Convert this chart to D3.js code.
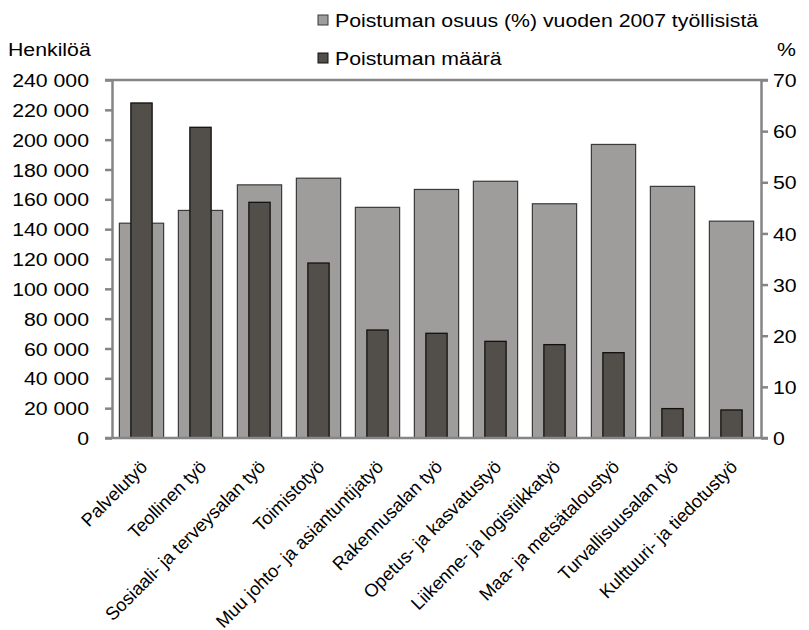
<!DOCTYPE html>
<html><head><meta charset="utf-8">
<script src="https://cdn.jsdelivr.net/npm/d3@7"></script>
<style>
html,body{margin:0;padding:0;background:#fff;}
svg text{font-family:"Liberation Sans",Arial,Helvetica,sans-serif;fill:#000;}
</style></head>
<body>
<svg id="chart" width="809" height="630"></svg>
<script>
const categories = ["Palvelutyö","Teollinen työ","Sosiaali- ja terveysalan työ","Toimistotyö","Muu johto- ja asiantuntijatyö","Rakennusalan työ","Opetus- ja kasvatustyö","Liikenne- ja logistiikkatyö","Maa- ja metsätaloustyö","Turvallisuusalan työ","Kulttuuri- ja tiedotustyö"];
const shareValues = [42.0, 44.5, 49.5, 50.8, 45.1, 48.6, 50.2, 45.8, 57.4, 49.2, 42.4];
const countValues = [224600, 208300, 158000, 117300, 72400, 70200, 64800, 62600, 57200, 19700, 18800];
const leftTicks = [0,20000,40000,60000,80000,100000,120000,140000,160000,180000,200000,220000,240000];
const rightTicks = [0,10,20,30,40,50,60,70];
const seriesNames = ["Poistuman osuus (%) vuoden 2007 työllisistä","Poistuman määrä"];
const leftTitle = "Henkilöä";
const rightTitle = "%";

const svg = d3.select("#chart");
const L = 112, R = 761, T = 80, B = 438;
const SX = 1.12; // horizontal stretch of text
const FS = 19;

const x = d3.scaleBand().domain(categories).range([L, R]).paddingInner(0.25).paddingOuter(0.125);
const yL = d3.scaleLinear().domain([0, 240000]).range([B, T]);
const yR = d3.scaleLinear().domain([0, 70]).range([B, T]);
const loc = d3.formatLocale({decimal: ",", thousands: "\u00a0", grouping: [3], currency: ["", "€"]});
const fmt = loc.format(",d");

const lightFill = "#9e9d9b", darkFill = "#524f4a", axisCol = "#858585";

// top border line
svg.append("line").attr("x1", L - 7).attr("x2", R + 7).attr("y1", T).attr("y2", T)
  .attr("stroke", axisCol).attr("stroke-width", 2.5);

// light bars (share, right axis)
svg.append("g").selectAll("rect").data(categories).join("rect")
  .attr("x", d => x(d)).attr("width", x.bandwidth())
  .attr("y", (d, i) => yR(shareValues[i])).attr("height", (d, i) => B - yR(shareValues[i]))
  .attr("fill", lightFill).attr("stroke", "#3a3a3a").attr("stroke-width", 1.2);

// dark bars (count, left axis)
const dw = x.bandwidth() * 0.48;
svg.append("g").selectAll("rect").data(categories).join("rect")
  .attr("x", d => x(d) + (x.bandwidth() - dw) / 2).attr("width", dw)
  .attr("y", (d, i) => yL(countValues[i])).attr("height", (d, i) => B - yL(countValues[i]))
  .attr("fill", darkFill).attr("stroke", "#111").attr("stroke-width", 1.3);

// left axis
const gl = svg.append("g").attr("transform", `translate(${L},0)`)
  .call(d3.axisLeft(yL).tickValues(leftTicks).tickFormat(fmt).tickSize(7).tickSizeOuter(0));
gl.select(".domain").attr("stroke", axisCol).attr("stroke-width", 2.5);
gl.selectAll(".tick line").attr("stroke", axisCol).attr("stroke-width", 2.5);
gl.selectAll(".tick text").attr("font-size", FS).attr("x", -23 / SX).attr("dy", "0.35em")
  .attr("transform", `scale(${SX},1)`).style("font-family", '"Liberation Sans",Arial,sans-serif');

// right axis
const gr = svg.append("g").attr("transform", `translate(${R},0)`)
  .call(d3.axisRight(yR).tickValues(rightTicks).tickSize(7).tickSizeOuter(0));
gr.select(".domain").attr("stroke", axisCol).attr("stroke-width", 2.5);
gr.selectAll(".tick line").attr("stroke", axisCol).attr("stroke-width", 2.5);
gr.selectAll(".tick text").attr("font-size", FS).attr("x", 12 / SX).attr("dy", "0.35em")
  .attr("transform", `scale(${SX},1)`).style("font-family", '"Liberation Sans",Arial,sans-serif');

// baseline
svg.append("line").attr("x1", L - 7).attr("x2", R + 7).attr("y1", B).attr("y2", B)
  .attr("stroke", axisCol).attr("stroke-width", 2.5);

// category labels
svg.append("g").selectAll("text").data(categories).join("text")
  .attr("transform", d => `translate(${x(d) + x.bandwidth() / 2 + 7},468) rotate(-45)`)
  .attr("text-anchor", "end").attr("font-size", 18.3).text(d => d);

// axis titles
function hText(tx, ty, str, anchor) {
  svg.append("text").attr("transform", `translate(${tx},${ty}) scale(${SX},1)`)
    .attr("text-anchor", anchor || "start").attr("font-size", FS).text(str);
}
hText(8, 56, leftTitle);
hText(777, 56, rightTitle);

// legend
const legend = [{name: seriesNames[0], fill: lightFill, stroke: "#3a3a3a", y: 20},
                {name: seriesNames[1], fill: darkFill, stroke: "#111", y: 58}];
legend.forEach(l => {
  svg.append("rect").attr("x", 318).attr("y", l.y - 5).attr("width", 10).attr("height", 10)
    .attr("fill", l.fill).attr("stroke", l.stroke).attr("stroke-width", 1);
  hText(335, l.y + 6.5, l.name);
});
</script>
</body></html>
